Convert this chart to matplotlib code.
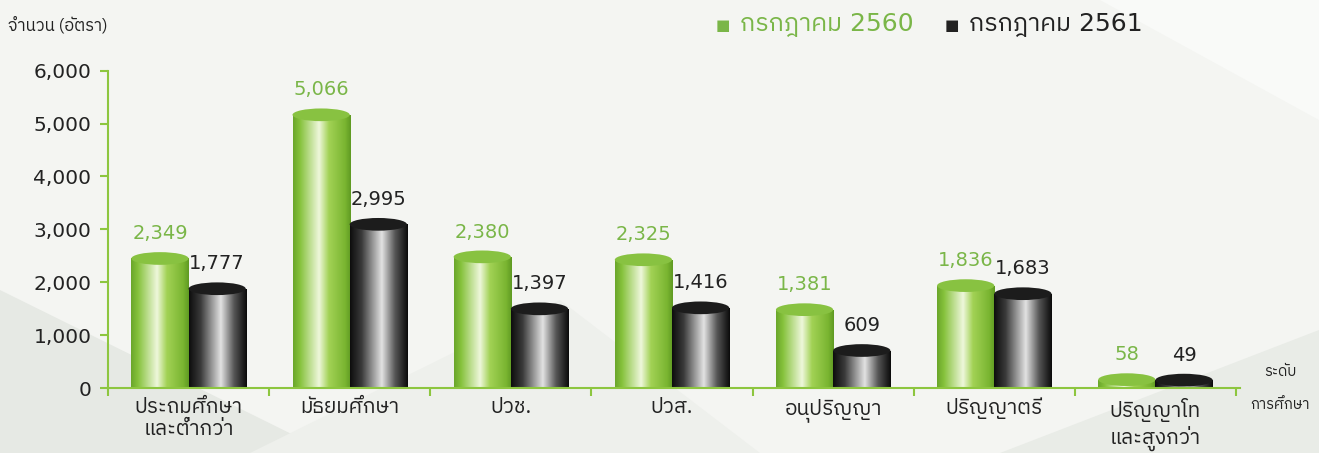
import matplotlib
matplotlib.use("Agg")
import matplotlib.pyplot as plt
from matplotlib import font_manager as fm
from matplotlib.patches import Ellipse, Polygon
import numpy as np

# ฟอนต์ไทย (ไม่มีหัว) ถ้าไม่มีใช้ Loma แทน
names = {f.name for f in fm.fontManager.ttflist}
thai = "IBM Plex Sans Thai" if "IBM Plex Sans Thai" in names else "Loma"
thai_family = [thai, "DejaVu Sans"]

categories = ["ประถมศึกษา\nและต่ำกว่า", "มัธยมศึกษา", "ปวช.", "ปวส.",
              "อนุปริญญา", "ปริญญาตรี", "ปริญญาโท\nและสูงกว่า"]
values_2560 = [2349, 5066, 2380, 2325, 1381, 1836, 58]
values_2561 = [1777, 2995, 1397, 1416, 609, 1683, 49]
series_names = ["กรกฎาคม 2560", "กรกฎาคม 2561"]
yticks = [0, 1000, 2000, 3000, 4000, 5000, 6000]

green = "#7ab648"
dark = "#222222"
axis_green = "#8dc63f"
bg = "#f4f5f2"

plt.rcParams["font.family"] = ["DejaVu Sans", thai]

fig = plt.figure(figsize=(13.19, 4.53), dpi=100, facecolor=bg)

# พื้นหลังลายเหลี่ยมจาง ๆ
bgax = fig.add_axes([0, 0, 1, 1], zorder=-5)
bgax.set_xlim(0, 1319)
bgax.set_ylim(453, 0)
bgax.axis("off")
bgax.add_patch(Polygon([(0, 290), (330, 453), (0, 453)], color="#e6e9e4", lw=0))
bgax.add_patch(Polygon([(250, 453), (560, 300), (760, 453)], color="#eef0ec", lw=0))
bgax.add_patch(Polygon([(1000, 453), (1319, 330), (1319, 453)], color="#e9ece7", lw=0))
bgax.add_patch(Polygon([(1100, 0), (1319, 0), (1319, 120)], color="#f9faf8", lw=0))

ax = fig.add_axes([108/1319, 65/453, 1132/1319, 317.3/453])
ax.set_facecolor("none")

x = np.arange(len(categories))
w = 0.355


def grad(stops):
    pos = np.linspace(0, 1, 256)
    cols = np.array([matplotlib.colors.to_rgb(c) for _, c in stops])
    ps = [p for p, _ in stops]
    img = np.stack([np.interp(pos, ps, cols[:, i]) for i in range(3)], axis=-1)
    return img[np.newaxis, :, :]


green_img = grad([(0, "#6aa62a"), (0.12, "#86c23c"), (0.45, "#eef7db"),
                  (0.62, "#a2d255"), (0.9, "#7ab531"), (1, "#5f9a22")])
dark_img = grad([(0, "#0d0d0d"), (0.2, "#3a3a3a"), (0.55, "#e2e2e2"),
                 (0.78, "#555555"), (1, "#0a0a0a")])

ell_h = 240
lift = 100
for vals, img, top, off, lc in [(values_2560, green_img, "#88c241", -w/2, green),
                                (values_2561, dark_img, "#1c1c1c", w/2, dark)]:
    bars = ax.bar(x + off, [v + lift for v in vals], width=w,
                  color="none", edgecolor="none")
    for b, v in zip(bars, vals):
        x0 = b.get_x()
        h = b.get_height()
        im = ax.imshow(img, extent=(x0, x0 + w, 0, h), aspect="auto", zorder=2)
        im.set_clip_path(b)
        ax.add_patch(Ellipse((x0 + w/2, h), w, ell_h, facecolor=top,
                             edgecolor="none", zorder=3, clip_on=False))
        ax.text(x0 + w/2, h + ell_h/2 + 170, f"{v:,}", ha="center", va="bottom",
                fontsize=14, color=lc)

ax.set_xlim(-0.5, 6.5 + 4/161)
ax.set_ylim(0, 6000)
ax.set_yticks(yticks)
ax.set_yticklabels([f"{t:,}" for t in yticks], fontsize=14.5, color="#222222")
ax.set_xticks(np.arange(-0.5, 7, 1))
ax.set_xticklabels([])
ax.set_xticks(x, minor=True)
ax.set_xticklabels(categories, minor=True, fontsize=15, color="#222222",
                   linespacing=1.25, family=thai_family)
ax.tick_params(axis="x", which="minor", length=0, pad=7)
ax.tick_params(axis="x", which="major", length=6, width=1.5, color=axis_green)
ax.tick_params(axis="y", length=6, width=1.5, color=axis_green, pad=6)
for s in ["top", "right"]:
    ax.spines[s].set_visible(False)
for s in ["left", "bottom"]:
    ax.spines[s].set_color(axis_green)
    ax.spines[s].set_linewidth(1.5)

fig.text(8/1319, 1 - 25/453, "จำนวน (อัตรา)", fontsize=12, color="#222222",
         va="center", family=thai_family)
fig.text(1280/1319, 1 - 372/453, "ระดับ", fontsize=10.5, color="#222222",
         va="center", ha="center", family=thai_family)
fig.text(1280/1319, 1 - 405/453, "การศึกษา", fontsize=10.5, color="#222222",
         va="center", ha="center", family=thai_family)

# คำอธิบายสัญลักษณ์
fig.text(716/1319, 1 - 25/453, "■", fontsize=11, color=green, va="center")
fig.text(740/1319, 1 - 25/453, series_names[0], fontsize=18, color=green, va="center")
fig.text(945/1319, 1 - 25/453, "■", fontsize=11, color=dark, va="center")
fig.text(969/1319, 1 - 25/453, series_names[1], fontsize=18, color=dark, va="center")

fig.savefig("out.png", dpi=100, facecolor=bg)
